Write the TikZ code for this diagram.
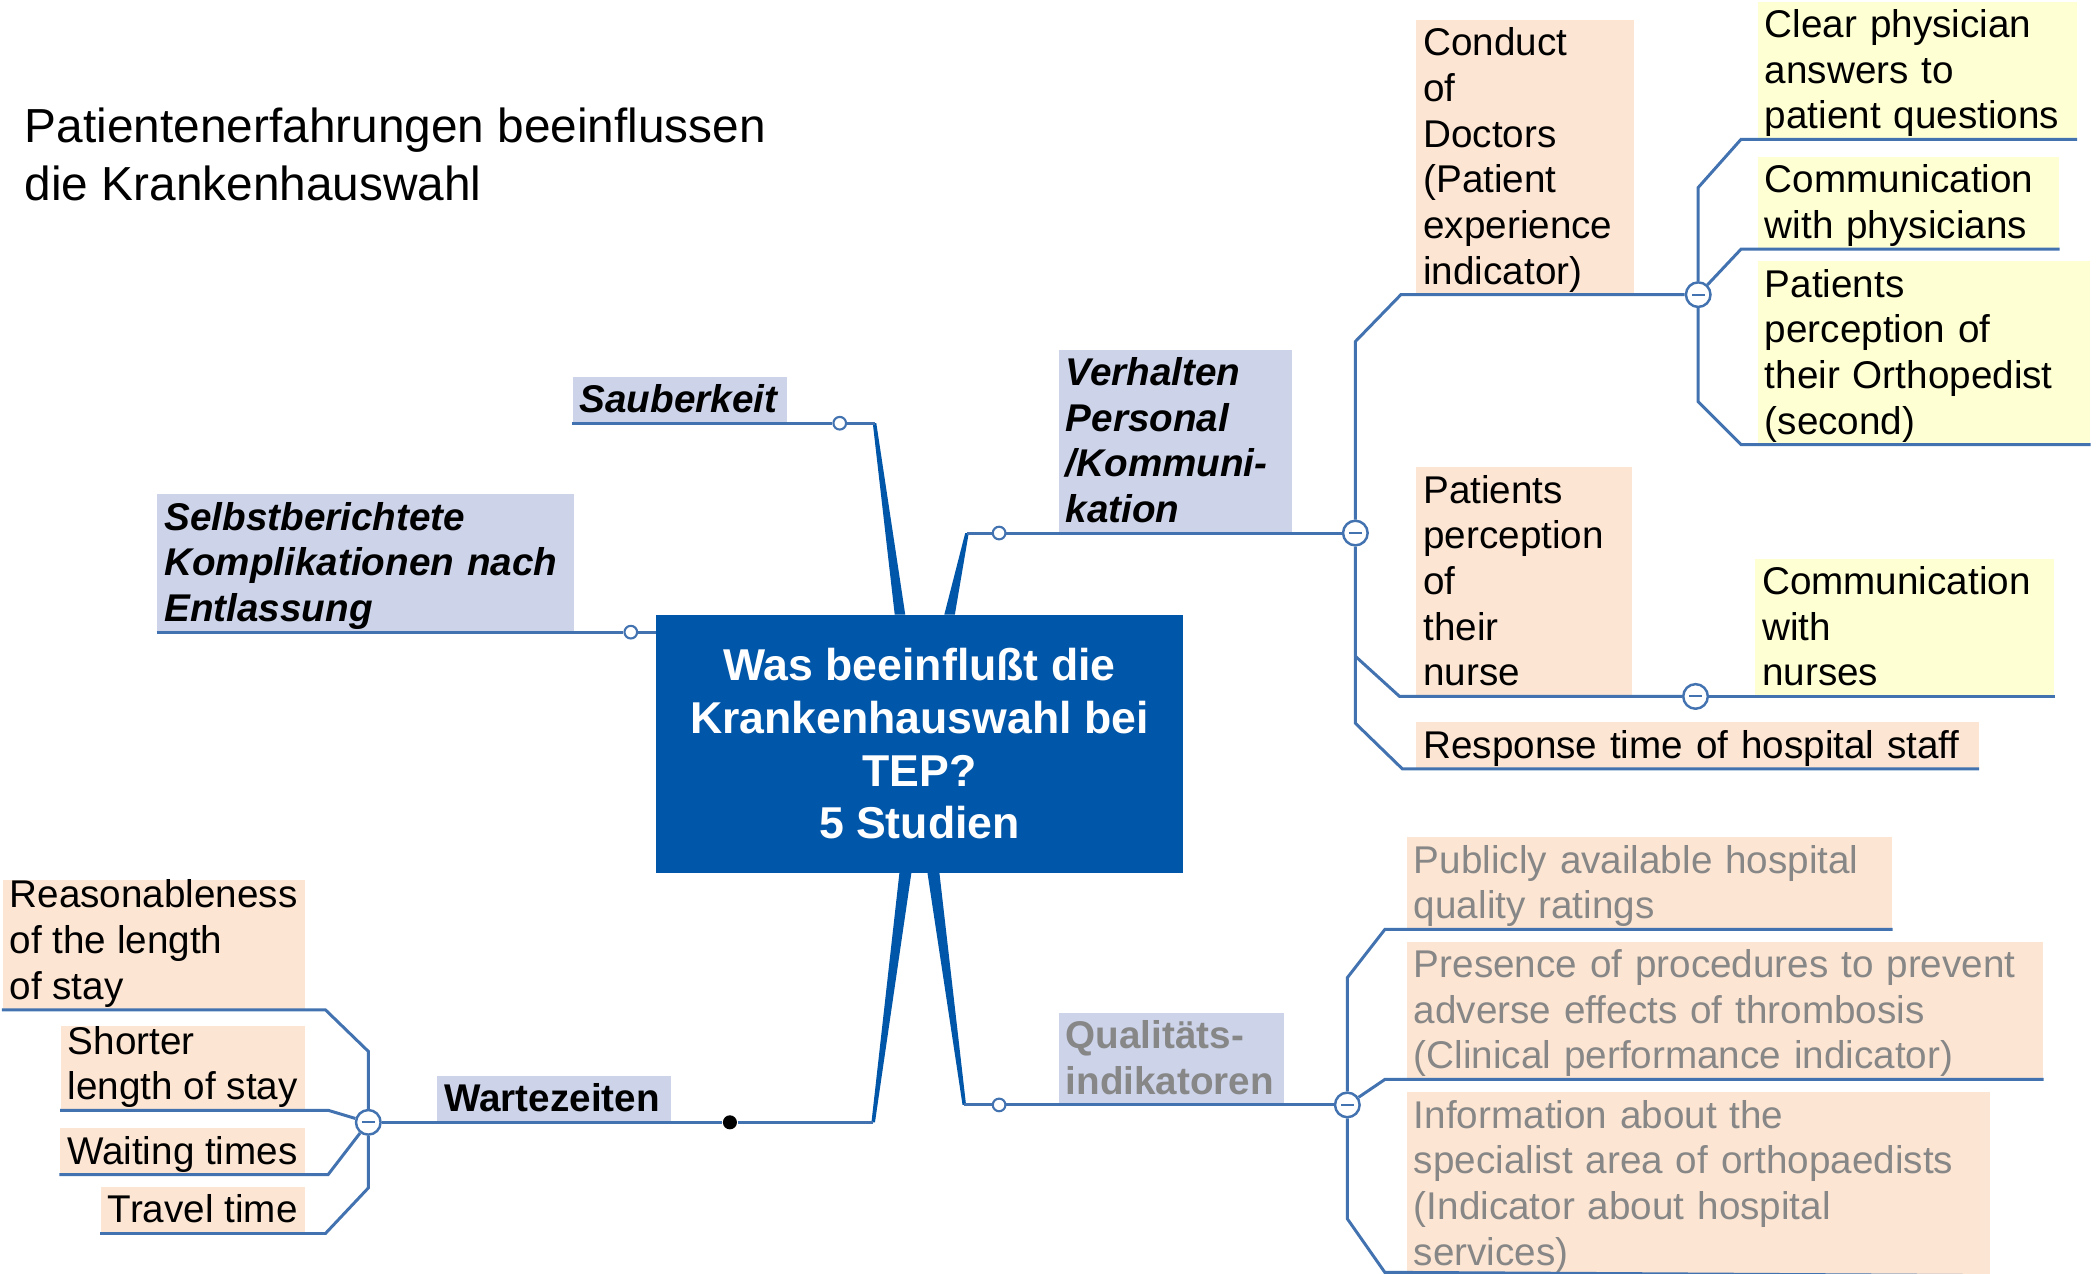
\documentclass[tikz,border=0pt]{standalone}
\usepackage{fontspec}
\setmainfont{Liberation Sans}
\usetikzlibrary{calc}

\newcommand{\px}{0.013393cm}
\newcommand{\mmfont}{\fontsize{11}{13}\selectfont}
\newcommand{\mmstrut}{\rule[-2.8pt]{0pt}{13pt}}

\definecolor{mmblue}{HTML}{0056A8}
\definecolor{mmline}{HTML}{4273B0}
\definecolor{mmlav}{HTML}{CDD4EA}
\definecolor{mmpeach}{HTML}{FCE5D2}
\definecolor{mmyellow}{HTML}{FFFFD4}
\definecolor{mmgray}{HTML}{878787}

\begin{document}
\begin{tikzpicture}[x=\px, y=-\px,
    mmbox/.style={inner xsep=2pt, inner ysep=0pt, align=left, font=\mmfont,
        execute at begin node=\mmstrut, execute at end node=\mmstrut},
    topicbox/.style={mmbox, fill=mmlav, font=\mmfont\bfseries\itshape},
    subbox/.style={mmbox, fill=mmpeach},
    leafbox/.style={mmbox, fill=mmyellow},
    greytext/.style={text=mmgray},
    centerbox/.style={fill=mmblue, text=white, align=center, inner sep=0pt,
        font=\fontsize{12.7}{15}\bfseries\selectfont,
        minimum width=149.8pt, minimum height=73.5pt},
    link/.style={draw=mmline, line width=0.85pt},
    trunk/.style={fill=mmblue},
    knob/.style={circle, draw=mmline, fill=white, line width=0.6pt, inner sep=0pt, minimum size=3.6pt},
    bullet/.style={circle, fill=black, inner sep=0pt, minimum size=4pt},
    fold/.style={circle, draw=mmline, fill=white, line width=0.7pt, inner sep=0pt, minimum size=7pt,
        path picture={\draw[mmline, line width=0.6pt]
            ([xshift=-1.8pt]path picture bounding box.center) -- ([xshift=1.8pt]path picture bounding box.center);}}]

    \useasboundingbox (0,0) rectangle (1568,951);

    % Title
    \node[anchor=north west, inner sep=0pt, align=left, font=\fontsize{13.6}{16.4}\selectfont] (title) at (18,80)
        {Patientenerfahrungen beeinflussen\\die Krankenhauswahl};

    % Center
    \node[centerbox] (main) at (686.5,555.5) {Was beeinflußt die\\Krankenhauswahl bei\\TEP?\\5 Studien};

    % First level
    \node[topicbox, anchor=south west, text width=57pt] (topic-1) at (427,316) {Sauberkeit};
    \node[topicbox, anchor=south west, text width=62.3pt] (topic-2) at (790,398) {Verhalten\\Personal\\/Kommuni-\\kation};
    \node[topicbox, anchor=south west, text width=114.5pt] (topic-3) at (117,472) {Selbstberichtete\\Komplikationen nach\\Entlassung};
    \node[topicbox, anchor=south west, text width=62.5pt, font=\mmfont\bfseries] (topic-4) at (326,838) {Wartezeiten};
    \node[topicbox, greytext, anchor=south west, text width=60pt, font=\mmfont\bfseries] (topic-5) at (790,825) {Qualitäts-\\indikatoren};

    % Verhalten branch
    \node[subbox, anchor=south west, text width=58pt] (sub-2-1) at (1057,220) {Conduct\\of\\Doctors\\(Patient\\experience\\indicator)};
    \node[leafbox, anchor=south west, text width=86.7pt] (leaf-1-1) at (1312,104) {Clear physician\\answers to\\patient questions};
    \node[leafbox, anchor=south west, text width=81.7pt] (leaf-1-2) at (1312,186) {Communication\\with physicians};
    \node[leafbox, anchor=south west, text width=90.5pt] (leaf-1-3) at (1312,332) {Patients\\perception of\\their Orthopedist\\(second)};
    \node[subbox, anchor=south west, text width=57.4pt] (sub-2-2) at (1057,520) {Patients\\perception\\of\\their\\nurse};
    \node[leafbox, anchor=south west, text width=81pt] (leaf-2-1) at (1310,520) {Communication\\with\\nurses};
    \node[subbox, anchor=south west, text width=156pt] (sub-2-3) at (1057,574) {Response time of hospital staff};

    % Qualitaet branch
    \node[subbox, greytext, anchor=south west, text width=134pt] (sub-5-1) at (1050,694) {Publicly available hospital\\quality ratings};
    \node[subbox, greytext, anchor=south west, text width=177pt] (sub-5-2) at (1050,806) {Presence of procedures to prevent\\adverse effects of thrombosis\\(Clinical performance indicator)};
    \node[subbox, greytext, anchor=north west, text width=161.8pt] (sub-5-3) at (1050,815) {Information about the\\specialist area of orthopaedists\\(Indicator about hospital\\services)};

    % Wartezeiten branch
    \node[subbox, anchor=south east] (sub-4-1) at (228,754) {Reasonableness\\of the length\\of stay};
    \node[subbox, anchor=south east] (sub-4-2) at (228,829) {Shorter\\length of stay};
    \node[subbox, anchor=south east] (sub-4-3) at (228,877) {Waiting times};
    \node[subbox, anchor=south east] (sub-4-4) at (228,921) {Travel time};

    % Knobs and folds
    \node[knob] (knob-1) at (627,316) {};
    \node[knob] (knob-2) at (746,398) {};
    \node[knob] (knob-3) at (471,472) {};
    \node[bullet] (knob-4) at (545,838) {};
    \node[knob] (knob-5) at (746,825) {};
    \node[fold] (fold-2) at (1012,398) {};
    \node[fold] (fold-2-1) at (1268,220) {};
    \node[fold] (fold-2-2) at (1266,520) {};
    \node[fold] (fold-4) at (275,838) {};
    \node[fold] (fold-5) at (1006,825) {};

    % Trunks
    \coordinate (joint-1) at (653,316);
    \coordinate (root-1) at (672,459);
    \coordinate (joint-2) at (722,398);
    \coordinate (root-2) at (709,459);
    \coordinate (joint-4) at (652,838);
    \coordinate (root-4) at (676,652);
    \coordinate (joint-5) at (720,825);
    \coordinate (root-5) at (697,652);
    \fill[trunk] ([xshift=-0.5pt]joint-1) -- ([xshift=0.5pt]joint-1) -- ([xshift=1.5pt]root-1) -- ([xshift=-1.5pt]root-1) -- cycle;
    \fill[trunk] ([xshift=-0.5pt]joint-2) -- ([xshift=0.5pt]joint-2) -- ([xshift=1.5pt]root-2) -- ([xshift=-1.5pt]root-2) -- cycle;
    \fill[trunk] ([xshift=-0.5pt]joint-4) -- ([xshift=0.5pt]joint-4) -- ([xshift=1.7pt]root-4) -- ([xshift=-1.7pt]root-4) -- cycle;
    \fill[trunk] ([xshift=-0.5pt]joint-5) -- ([xshift=0.5pt]joint-5) -- ([xshift=1.7pt]root-5) -- ([xshift=-1.7pt]root-5) -- cycle;

    % First level lines
    \draw[link] (topic-1.south west) -- (knob-1) -- (joint-1);
    \draw[link] (joint-2) -- (knob-2) -- (fold-2);
    \draw[link] (topic-3.south west) -- (knob-3) -- (main.west |- knob-3);
    \draw[link] (fold-4) -- (knob-4) -- (joint-4);
    \draw[link] (joint-5) -- (knob-5) -- (fold-5);

    % Verhalten tree
    \coordinate (bend-2-top) at (1012,255);
    \coordinate (bend-2-mid) at (1012,490);
    \coordinate (bend-2-bot) at (1012,540);
    \draw[link] (fold-2) -- (bend-2-top) -- ++(34,-35) -- (fold-2-1);
    \draw[link] (fold-2) -- (bend-2-bot) -- ++(35,34) -- (sub-2-3.south east);
    \draw[link] (bend-2-mid) -- ++(33,30) -- (fold-2-2);
    \draw[link] (fold-2-2) -- (leaf-2-1.south east);
    \draw[link] (fold-2-1) -- ++(0,-80) -- ++(32,-36) -- (leaf-1-1.south east);
    \draw[link] (fold-2-1) -- ++(32,-34) -- (leaf-1-2.south east);
    \draw[link] (fold-2-1) -- ++(0,80) -- ++(32,32) -- (leaf-1-3.south east);

    % Qualitaet tree
    \draw[link] (fold-5) -- ++(0,-95) -- ++(28,-36) -- (sub-5-1.south east);
    \draw[link] (fold-5) -- ++(28,-19) -- (sub-5-2.south east);
    \draw[link] (fold-5) -- ++(0,85) -- ++(28,40) -- (sub-5-3.south east);

    % Wartezeiten tree
    \draw[link] (fold-4) -- ++(0,-53) -- ++(-32,-31) -- (sub-4-1.south west);
    \draw[link] (fold-4) -- ++(-30,-9) -- (sub-4-2.south west);
    \draw[link] (fold-4) -- ++(-30,39) -- (sub-4-3.south west);
    \draw[link] (fold-4) -- ++(0,49) -- ++(-32,34) -- (sub-4-4.south west);

\end{tikzpicture}
\end{document}
